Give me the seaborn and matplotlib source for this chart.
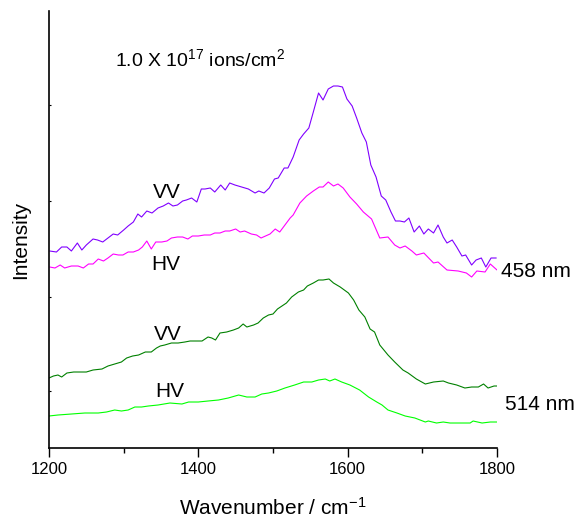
import numpy as np
import pandas as pd
import matplotlib
matplotlib.use("Agg")
import matplotlib.pyplot as plt
import seaborn as sns

# Raman spectra, 1.0e17 ions/cm2 (intensity in arbitrary units, offset per trace)
vv458_x = [1201, 1210, 1217, 1224, 1230, 1238, 1244, 1250, 1259, 1265, 1272, 1279, 1286, 1292, 1300,
           1306, 1313, 1319, 1324, 1331, 1338, 1346, 1353, 1360, 1366, 1372, 1379, 1384, 1391, 1398,
           1404, 1409, 1416, 1422, 1430, 1436, 1442, 1449, 1458, 1467, 1476, 1481, 1488, 1495, 1502,
           1507, 1515, 1520, 1527, 1535, 1541, 1548, 1554, 1561, 1567, 1574, 1581, 1587, 1593, 1599,
           1606, 1612, 1619, 1625, 1631, 1638, 1645, 1651, 1658, 1664, 1670, 1676, 1682, 1689, 1696,
           1702, 1708, 1715, 1721, 1728, 1733, 1740, 1746, 1753, 1758, 1766, 1772, 1779, 1785, 1792, 1799]
vv458_y = [197, 196, 201, 201, 197, 205, 198, 203, 209, 208, 206, 210, 214, 213, 218,
           222, 226, 234, 231, 237, 235, 240, 242, 245, 242, 243, 247, 248, 250, 246,
           259, 259, 260, 256, 263, 258, 265, 263, 261, 259, 255, 257, 255, 260, 269,
           270, 280, 280, 291, 308, 314, 320, 336, 355, 348, 359, 362, 362, 361, 349,
           342, 330, 315, 306, 283, 271, 252, 248, 236, 227, 227, 226, 230, 216, 222,
           214, 219, 215, 223, 211, 205, 208, 201, 192, 193, 183, 188, 190, 181, 190, 190]

hv458_x = [1201, 1208, 1215, 1221, 1230, 1239, 1246, 1253, 1259, 1266, 1273, 1279, 1286, 1293, 1299,
           1306, 1313, 1320, 1325, 1331, 1337, 1343, 1351, 1358, 1364, 1372, 1379, 1386, 1392, 1400,
           1408, 1416, 1422, 1429, 1436, 1442, 1450, 1456, 1462, 1471, 1478, 1484, 1490, 1496, 1503,
           1509, 1516, 1523, 1527, 1536, 1545, 1554, 1562, 1567, 1574, 1581, 1587, 1594, 1603, 1612,
           1621, 1632, 1643, 1654, 1663, 1670, 1677, 1686, 1692, 1702, 1715, 1721, 1733, 1748, 1759,
           1766, 1773, 1784, 1791, 1800]
hv458_y = [181, 180, 183, 180, 182, 182, 180, 184, 184, 189, 187, 190, 194, 193, 193,
           196, 196, 198, 201, 207, 199, 206, 206, 207, 210, 211, 211, 209, 212, 212,
           213, 213, 215, 215, 217, 217, 219, 216, 217, 214, 213, 210, 212, 214, 219,
           216, 223, 230, 233, 245, 252, 257, 261, 261, 266, 262, 264, 260, 251, 244,
           236, 229, 210, 211, 203, 200, 202, 197, 193, 195, 185, 186, 178, 177, 175,
           171, 177, 176, 184, 178]

vv514_x = [1200, 1206, 1212, 1217, 1224, 1233, 1242, 1250, 1259, 1271, 1279, 1288, 1297, 1304, 1312,
           1320, 1329, 1337, 1344, 1349, 1355, 1364, 1373, 1382, 1389, 1398, 1405, 1413, 1418, 1423,
           1429, 1438, 1447, 1454, 1460, 1465, 1474, 1480, 1487, 1494, 1500, 1506, 1512, 1518, 1525,
           1534, 1541, 1546, 1554, 1561, 1567, 1575, 1581, 1590, 1601, 1608, 1615, 1623, 1630, 1636,
           1643, 1654, 1663, 1674, 1681, 1692, 1704, 1715, 1728, 1735, 1746, 1757, 1766, 1775, 1782,
           1788, 1796, 1800]
vv514_y = [70, 72, 73, 71, 75, 76, 76, 76, 78, 79, 82, 84, 86, 90, 92,
           93, 96, 96, 100, 102, 103, 105, 105, 106, 107, 107, 107, 111, 110, 108,
           115, 116, 118, 120, 124, 121, 123, 125, 130, 133, 134, 139, 142, 145, 151,
           156, 158, 162, 165, 168, 168, 169, 165, 161, 155, 148, 138, 131, 119, 116,
           103, 93, 86, 78, 75, 69, 64, 66, 67, 65, 63, 60, 61, 61, 64,
           60, 62, 62]

hv514_x = [1200, 1212, 1230, 1248, 1266, 1277, 1288, 1297, 1306, 1315, 1324, 1333, 1346, 1362, 1378,
           1387, 1400, 1413, 1427, 1440, 1454, 1465, 1476, 1485, 1494, 1505, 1516, 1529, 1541, 1552,
           1561, 1570, 1576, 1583, 1592, 1603, 1616, 1628, 1639, 1646, 1654, 1666, 1677, 1690, 1704,
           1708, 1719, 1728, 1737, 1753, 1764, 1768, 1780, 1791, 1800]
hv514_y = [32, 33, 34, 35, 35, 36, 38, 37, 38, 41, 41, 42, 43, 45, 44,
           46, 46, 47, 48, 50, 53, 51, 51, 54, 55, 57, 60, 63, 66, 66,
           68, 69, 67, 69, 66, 63, 58, 51, 46, 43, 38, 35, 32, 30, 26,
           27, 25, 26, 25, 25, 25, 27, 25, 26, 26]

sns.set_style("ticks")
plt.rcParams['font.family'] = ['Liberation Sans', 'DejaVu Sans']
plt.rcParams['mathtext.fontset'] = 'custom'
plt.rcParams['mathtext.rm'] = 'Liberation Sans'
plt.rcParams['mathtext.it'] = 'Liberation Sans:italic'
for k in ['text.color', 'axes.labelcolor', 'xtick.color', 'ytick.color']:
    plt.rcParams[k] = 'black'

fig = plt.figure(figsize=(5.79, 5.21), dpi=100)
ax = fig.add_axes([0.0846, 0.1401, 0.7738, 0.8388])

traces = [
    (vv458_x, vv458_y, '#8000FF'),
    (hv458_x, hv458_y, '#FF00FF'),
    (vv514_x, vv514_y, '#008000'),
    (hv514_x, hv514_y, '#00FF00'),
]
for xs, ys, c in traces:
    sns.lineplot(x=xs, y=ys, ax=ax, color=c, linewidth=0.8, estimator=None)

ax.set_xlim(1200, 1800)
ax.set_ylim(0, 437)
ax.set_xticks([1200, 1400, 1600, 1800])
ax.set_xticks([1300, 1500, 1700], minor=True)
ax.set_yticks([57, 151, 247, 343])
ax.set_yticklabels([])
ax.tick_params(axis='x', which='major', direction='out', length=6.5, width=1, labelsize=12)
ax.tick_params(axis='x', which='minor', direction='out', length=3.5, width=1)
ax.tick_params(axis='y', direction='in', length=1.5, width=0.8)

sns.despine(ax=ax)
for s in ['left', 'bottom']:
    ax.spines[s].set_linewidth(1.2)
    ax.spines[s].set_color('black')

ax.set_xlabel('Wavenumber / cm$^{-1}$', fontsize=15)
ax.set_ylabel('Intensity', fontsize=15)
ax.xaxis.set_label_coords(0.5, -0.112)
ax.yaxis.set_label_coords(-0.042, 0.476)

ax.text(1358, 255, 'VV', fontsize=15, ha='center', va='center')
ax.text(1356, 184, 'HV', fontsize=15, ha='center', va='center')
ax.text(1359, 114, 'VV', fontsize=15, ha='center', va='center')
ax.text(1362, 57, 'HV', fontsize=15, ha='center', va='center')
ax.text(1806, 177, '458 nm', fontsize=15, ha='left', va='center', clip_on=False)
ax.text(1811, 44, '514 nm', fontsize=15, ha='left', va='center', clip_on=False)
ax.text(1288, 382, '1.0 X 10$^{17}$ ions/cm$^{2}$', fontsize=14, ha='left', va='baseline')

fig.savefig('out.png', dpi=100)
